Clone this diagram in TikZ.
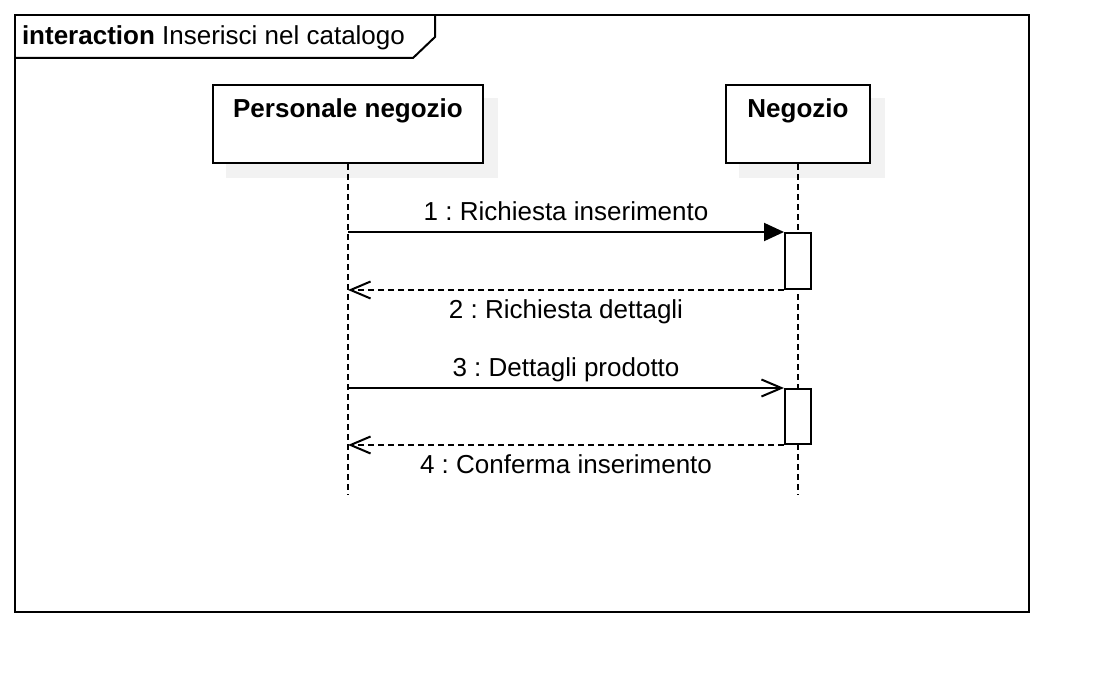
\documentclass[tikz,border=0pt]{standalone}
\usepackage{fontspec}
\setmainfont{Liberation Sans}
\usetikzlibrary{arrows.meta, positioning, backgrounds}
\frenchspacing

\begin{document}
\begin{tikzpicture}[x=1pt, y=-1pt, line width=2pt,
    font=\fontsize{26}{31}\selectfont,
    head/.style={draw, fill=white, minimum width=#1, minimum height=78pt, inner sep=0pt},
    headshadow/.style={fill=black!5, draw=none},
    lifeline/.style={line width=2.2pt, dash pattern=on 6pt off 4pt},
    act/.style={draw, fill=white, minimum width=26pt, inner sep=0pt},
    lbl/.style={inner sep=0pt, anchor=base},
    call/.style={-{Triangle[length=20pt, width=18pt]}},
    msg/.style={-{Straight Barb[length=20pt, width=17pt]}},
    reply/.style={msg, dash pattern=on 6pt off 4pt}]
  %sequenza  Inserisci nel catalogo
  \useasboundingbox (0,0) rectangle (1114,698);

  % cornice
  \draw (15,15) rectangle (1029,612);
  \draw (15,58) -- (413,58) -- (435,37) -- (435,15);
  \node[anchor=base west, inner sep=0pt] (title) at (21,45) {\textbf{interaction} Inserisci nel catalogo};

  % partecipanti
  \node[head=270pt] (pers) at (348,124) {};
  \node[head=144pt] (neg) at (798,124) {};
  \node[lbl] (perslbl) at ([yshift=-34pt]pers.north) {\textbf{Personale negozio}};
  \node[lbl] (neglbl) at ([yshift=-34pt]neg.north) {\textbf{Negozio}};
  \begin{scope}[on background layer]
    \fill[headshadow] ([shift={(14pt,-14pt)}]pers.south west) rectangle ([shift={(14pt,-14pt)}]pers.north east);
    \fill[headshadow] ([shift={(14pt,-14pt)}]neg.south west) rectangle ([shift={(14pt,-14pt)}]neg.north east);
  \end{scope}

  \coordinate (pend) at (348,495);
  \coordinate (nend) at (798,495);
  \draw[lifeline] (pers.south) -- (pend);
  \draw[lifeline] (neg.south) -- (nend);

  % attivazioni
  \node[act, minimum height=56pt] (act1) at (798,261) {};
  \node[act, minimum height=55pt] (act2) at (798,416.5) {};

  % messaggi
  \draw[call] (pers.south |- act1.north) -- (act1.north west)
    node[lbl, midway, yshift=12pt] {1 : Richiesta inserimento};
  \draw[reply] (act1.south west) -- (pers.south |- act1.south)
    node[lbl, midway, yshift=-28pt] {2 : Richiesta dettagli};
  \draw[msg] (pers.south |- act2.north) -- (act2.north west)
    node[lbl, midway, yshift=12pt] {3 : Dettagli prodotto};
  \draw[reply] (act2.south west) -- (pers.south |- act2.south)
    node[lbl, midway, yshift=-28pt] {4 : Conferma inserimento};
\end{tikzpicture}
\end{document}
